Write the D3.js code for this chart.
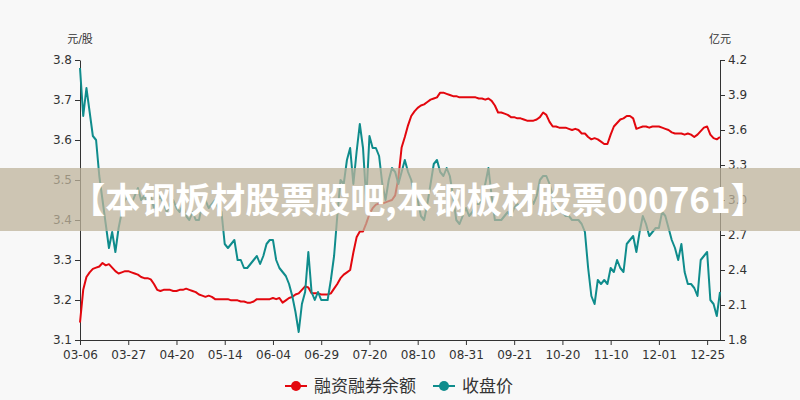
<!DOCTYPE html>
<html>
<head>
<meta charset="utf-8">
<script src="https://cdn.jsdelivr.net/npm/d3@7"></script>
<style>
html,body{margin:0;padding:0;background:#f8f8f8;}
svg{display:block;font-family:"DejaVu Sans","Noto Sans CJK SC",sans-serif;}
</style>
</head>
<body>
<svg id="chart" width="800" height="400"></svg>
<script>
// ---- data ----
const tickLabels = ["03-06","03-27","04-20","05-14","06-04","06-29","07-20","08-10","08-31","09-21","10-20","11-10","12-01","12-25"];
const tickStep = 15; // categories between labelled ticks
// 收盘价 (元/股, left axis)
const closePrice = [
3.78,3.66,3.73,3.67,3.61,3.60,3.51,3.45,3.39,3.33,
3.37,3.32,3.38,3.42,3.45,3.46,3.44,3.46,3.48,3.45,
3.46,3.44,3.46,3.43,3.45,3.46,3.44,3.42,3.44,3.45,
3.43,3.42,3.44,3.41,3.40,3.42,3.40,3.40,3.44,3.45,
3.43,3.44,3.45,3.43,3.42,3.34,3.33,3.34,3.35,3.30,
3.30,3.28,3.28,3.29,3.30,3.31,3.29,3.31,3.34,3.35,
3.35,3.30,3.28,3.27,3.26,3.24,3.21,3.17,3.12,3.19,
3.22,3.32,3.22,3.20,3.22,3.20,3.20,3.20,3.25,3.31,
3.41,3.50,3.49,3.55,3.58,3.49,3.57,3.64,3.58,3.45,
3.61,3.58,3.58,3.56,3.49,3.45,3.50,3.53,3.52,3.49,
3.52,3.55,3.52,3.50,3.46,3.45,3.41,3.40,3.44,3.49,
3.54,3.55,3.52,3.51,3.53,3.51,3.46,3.40,3.39,3.41,
3.43,3.41,3.42,3.44,3.44,3.45,3.49,3.53,3.46,3.40,
3.40,3.40,3.41,3.42,3.41,3.43,3.44,3.43,3.44,3.45,
3.46,3.44,3.46,3.50,3.51,3.51,3.49,3.46,3.43,3.42,
3.42,3.41,3.41,3.40,3.40,3.40,3.39,3.37,3.28,3.21,
3.19,3.25,3.24,3.25,3.24,3.28,3.27,3.30,3.28,3.27,
3.34,3.35,3.36,3.32,3.37,3.41,3.39,3.36,3.37,3.38,
3.38,3.42,3.41,3.38,3.35,3.33,3.30,3.34,3.27,3.24,
3.24,3.23,3.21,3.30,3.31,3.32,3.20,3.19,3.16,3.22
];
// 融资融券余额 (亿元, right axis)
const marginBalance = [
1.95,2.23,2.34,2.38,2.41,2.42,2.43,2.46,2.44,2.45,
2.42,2.39,2.37,2.38,2.39,2.39,2.38,2.37,2.36,2.34,
2.33,2.33,2.32,2.28,2.23,2.22,2.23,2.23,2.23,2.22,
2.22,2.23,2.23,2.24,2.23,2.22,2.21,2.19,2.18,2.17,
2.18,2.17,2.15,2.15,2.15,2.15,2.15,2.14,2.14,2.14,
2.13,2.13,2.12,2.12,2.13,2.15,2.15,2.15,2.15,2.15,
2.16,2.15,2.16,2.12,2.14,2.16,2.17,2.19,2.20,2.23,
2.26,2.25,2.20,2.20,2.20,2.19,2.19,2.19,2.20,2.24,
2.28,2.33,2.36,2.38,2.40,2.55,2.68,2.73,2.73,2.80,
2.88,2.93,2.96,2.97,2.97,2.98,2.99,3.00,3.04,3.19,
3.45,3.54,3.64,3.72,3.76,3.79,3.81,3.82,3.84,3.86,
3.87,3.88,3.92,3.92,3.91,3.90,3.89,3.89,3.88,3.88,
3.88,3.88,3.88,3.88,3.87,3.87,3.86,3.87,3.85,3.81,
3.75,3.75,3.74,3.73,3.71,3.71,3.70,3.70,3.69,3.68,
3.68,3.68,3.69,3.71,3.75,3.73,3.67,3.63,3.63,3.62,
3.62,3.62,3.61,3.60,3.61,3.60,3.57,3.57,3.54,3.52,
3.53,3.52,3.50,3.48,3.48,3.56,3.63,3.66,3.69,3.70,
3.72,3.72,3.70,3.61,3.62,3.63,3.63,3.62,3.63,3.63,
3.63,3.62,3.61,3.60,3.58,3.57,3.57,3.57,3.56,3.57,
3.56,3.54,3.56,3.59,3.62,3.63,3.56,3.53,3.52,3.54
];
const leftTicks = [3.1,3.2,3.3,3.4,3.5,3.6,3.7,3.8];
const rightTicks = [1.8,2.1,2.4,2.7,3.0,3.3,3.6,3.9,4.2];
const seriesNames = ["融资融券余额","收盘价"];
const colors = {margin:"#e3070e", close:"#0f8c8c"};
const bannerText = "【本钢板材股票股吧,本钢板材股票000761】";

// ---- chart ----
const svg = d3.select("#chart");
const W = 800, H = 400;
const m = {left:80, right:80, top:60, bottom:60};
const x = d3.scaleLinear().domain([0, closePrice.length-1]).range([m.left, W-m.right]);
const yL = d3.scaleLinear().domain([3.1,3.8]).range([H-m.bottom, m.top]);
const yR = d3.scaleLinear().domain([1.8,4.2]).range([H-m.bottom, m.top]);

svg.append("rect").attr("width",W).attr("height",H).attr("fill","#f8f8f8");

const tickIdx = tickLabels.map((d,i)=>i*tickStep);
const xAxis = d3.axisBottom(x).tickValues(tickIdx).tickFormat((d,i)=>tickLabels[i]).tickSize(5).tickSizeOuter(0);
const gx = svg.append("g").attr("transform",`translate(0,${H-m.bottom})`).call(xAxis);
const gl = svg.append("g").attr("transform",`translate(${m.left},0)`).call(d3.axisLeft(yL).tickValues(leftTicks).tickFormat(d3.format(".1f")).tickSize(5).tickSizeOuter(0));
const gr = svg.append("g").attr("transform",`translate(${W-m.right},0)`).call(d3.axisRight(yR).tickValues(rightTicks).tickFormat(d3.format(".1f")).tickSize(5).tickSizeOuter(0));
[gx,gl,gr].forEach(g=>{
  g.selectAll("path.domain").attr("stroke","#333").attr("stroke-width",1);
  g.selectAll(".tick line").attr("stroke","#333");
  g.selectAll(".tick text").attr("fill","#333").style("font-size","12px").style("font-family","DejaVu Sans");
});
gx.selectAll(".tick text").attr("dy","0.95em");
gx.select("path.domain").attr("d",`M${m.left},0.5H${W-m.right}`);

svg.append("text").attr("x",m.left).attr("y",43).attr("text-anchor","middle")
  .attr("fill","#333").style("font-size","11px").text("元/股");
svg.append("text").attr("x",W-m.right).attr("y",43).attr("text-anchor","middle")
  .attr("fill","#333").style("font-size","11px").text("亿元");

const lineL = d3.line().x((d,i)=>x(i)).y(d=>yL(d));
const lineR = d3.line().x((d,i)=>x(i)).y(d=>yR(d));
svg.append("path").datum(marginBalance).attr("d",lineR).attr("fill","none")
  .attr("stroke",colors.margin).attr("stroke-width",2).attr("stroke-linejoin","round");
svg.append("path").datum(closePrice).attr("d",lineL).attr("fill","none")
  .attr("stroke",colors.close).attr("stroke-width",2).attr("stroke-linejoin","round");

// legend
const legend = [
  {name:seriesNames[0], color:colors.margin, x:285},
  {name:seriesNames[1], color:colors.close, x:433}
];
legend.forEach(l=>{
  const g = svg.append("g").attr("transform",`translate(${l.x},386)`);
  g.append("line").attr("x1",0).attr("x2",22).attr("stroke",l.color).attr("stroke-width",2);
  g.append("circle").attr("cx",11).attr("cy",0).attr("r",5).attr("fill",l.color);
  g.append("text").attr("x",29).attr("y",0).attr("dy","0.35em").attr("fill","#333")
    .style("font-size","17px").style("font-family","Noto Sans CJK SC").text(l.name);
});

// banner overlay
svg.append("rect").attr("x",0).attr("y",168).attr("width",W).attr("height",63)
  .attr("fill","rgb(190,180,155)").attr("fill-opacity",0.74);
svg.append("text").attr("x",W/2 + 18).attr("y",201).attr("dy","0.35em").attr("text-anchor","middle")
  .attr("fill","#fff").style("font-size","35px").style("font-weight","bold")
  .style("font-family","Noto Sans CJK SC").text(bannerText);
</script>
</body>
</html>
